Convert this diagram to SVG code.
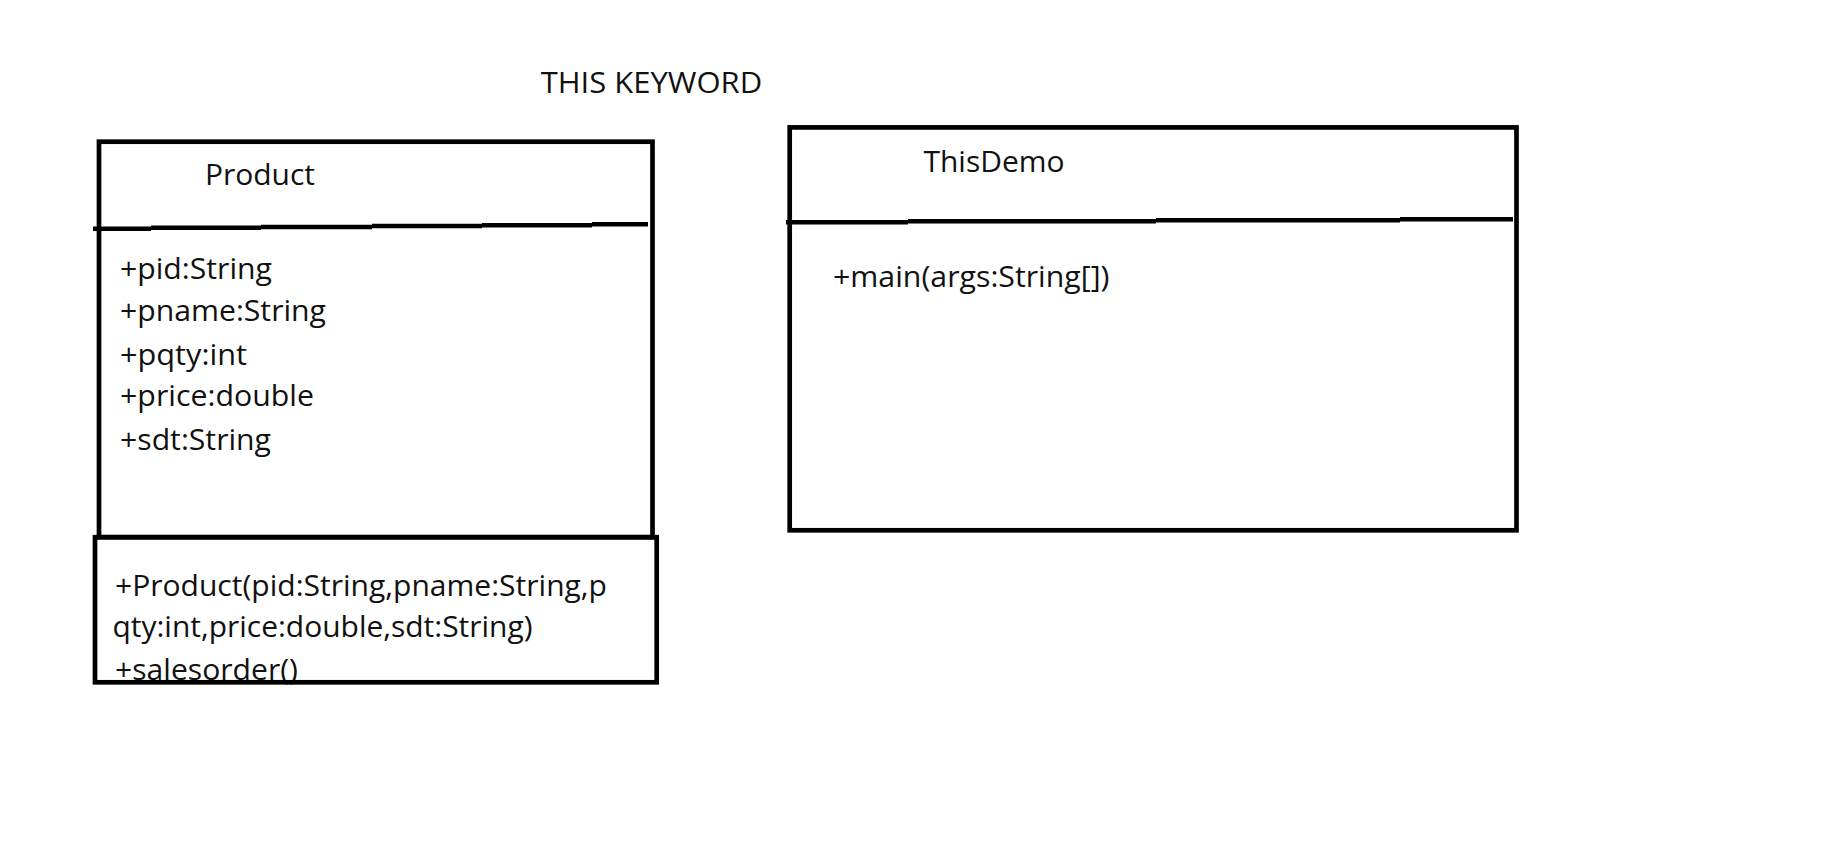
<svg xmlns="http://www.w3.org/2000/svg" width="1831" height="846" viewBox="0 0 1831 846">
  <style>
    .box { fill: none; stroke: #000; stroke-width: 4.7; }
    .div { fill: none; stroke: #000; stroke-width: 4.5; stroke-linecap: butt; }
    .t { font-family: "Open Sans", "Noto Sans", sans-serif; font-size: 29.5px; fill: #111; }
  </style>
  <rect width="1831" height="846" fill="#fff"/>
  <text id="title" class="t" x="540.7" y="92.7" textLength="221.5" lengthAdjust="spacingAndGlyphs">THIS KEYWORD</text>
  <g id="node-product">
    <text class="t" x="205" y="185" textLength="110" lengthAdjust="spacingAndGlyphs">Product</text>
    <text class="t" x="120" y="278.5" textLength="152" lengthAdjust="spacingAndGlyphs">+pid:String</text>
    <text class="t" x="120" y="320.8" textLength="206" lengthAdjust="spacingAndGlyphs">+pname:String</text>
    <text class="t" x="120" y="364.5" textLength="127" lengthAdjust="spacingAndGlyphs">+pqty:int</text>
    <text class="t" x="120" y="406" textLength="194" lengthAdjust="spacingAndGlyphs">+price:double</text>
    <text class="t" x="120" y="449.5" textLength="151" lengthAdjust="spacingAndGlyphs">+sdt:String</text>
    <text class="t" x="115" y="595.5" textLength="492" lengthAdjust="spacingAndGlyphs">+Product(pid:String,pname:String,p</text>
    <text class="t" x="112.5" y="636.5" textLength="420" lengthAdjust="spacingAndGlyphs">qty:int,price:double,sdt:String)</text>
    <text class="t" x="115" y="680" textLength="183" lengthAdjust="spacingAndGlyphs">+salesorder()</text>
    <rect class="box" x="99" y="141.7" width="553.5" height="395.5"/>
    <path class="div" d="M93 228.7 H151 M151 227.8 H261 M261 226.9 H372 M372 226 H482 M482 225.2 H592 M592 224.3 H648"/>
    <rect class="box" x="95" y="537.2" width="561.7" height="145.1"/>
  </g>
  <g id="node-thisdemo">
    <text class="t" x="923.5" y="172.3" textLength="141" lengthAdjust="spacingAndGlyphs">ThisDemo</text>
    <text class="t" x="833" y="286.7" textLength="276.5" lengthAdjust="spacingAndGlyphs">+main(args:String[])</text>
    <rect class="box" x="789.7" y="127.4" width="726.8" height="402.9"/>
    <path class="div" d="M786 222.3 H908 M908 221.3 H1156 M1156 220.3 H1400 M1400 219.3 H1513"/>
  </g>
  <g id="connectors"/>
</svg>
